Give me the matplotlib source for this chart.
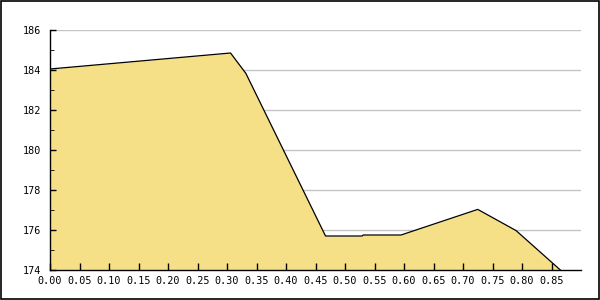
import matplotlib
matplotlib.use("Agg")
import matplotlib.pyplot as plt
from matplotlib.patches import Rectangle
from matplotlib.ticker import MultipleLocator

# data
xs = [0.0, 0.306, 0.332, 0.467, 0.529, 0.531, 0.595, 0.725, 0.790, 0.865]
ys = [184.05, 184.85, 183.83, 175.70, 175.70, 175.75, 175.75, 177.03, 175.97, 174.0]
x_ticks = [i * 0.05 for i in range(18)]
y_ticks = [174, 176, 178, 180, 182, 184, 186]

plt.rcParams['font.family'] = ['DejaVu Sans Mono']

fig = plt.figure(figsize=(6, 3), dpi=100)
ax = fig.add_axes([50 / 600, 30 / 300, 531 / 600, 240 / 300])

# grid
for v in y_ticks[1:]:
    ax.axhline(v, color="#c4c4c4", lw=1, zorder=0)

ax.fill_between(xs, ys, 174, color="#f5e087", lw=0, zorder=1)
ax.plot(xs, ys, color="black", lw=0.9, zorder=2)

ax.set_xlim(0, 0.9)
ax.set_ylim(174, 186)
ax.set_xticks(x_ticks)
ax.set_xticklabels(["%.2f" % t for t in x_ticks])
ax.set_yticks(y_ticks)
ax.yaxis.set_minor_locator(MultipleLocator(1))
ax.tick_params(axis="both", direction="in", labelsize=7.3, width=1, color="black", pad=3)
ax.tick_params(axis="y", which="major", length=4, pad=6)
ax.tick_params(axis="y", which="minor", length=3, direction="in")
ax.tick_params(axis="x", length=5, pad=4)

for s in ["top", "right"]:
    ax.spines[s].set_visible(False)
for s in ["left", "bottom"]:
    ax.spines[s].set_linewidth(1)

# outer frame
fig.patches.append(Rectangle((0.001, 0.002), 0.997, 0.995, transform=fig.transFigure,
                             fill=False, ec="black", lw=1.2))

fig.savefig("out.png", dpi=100)
